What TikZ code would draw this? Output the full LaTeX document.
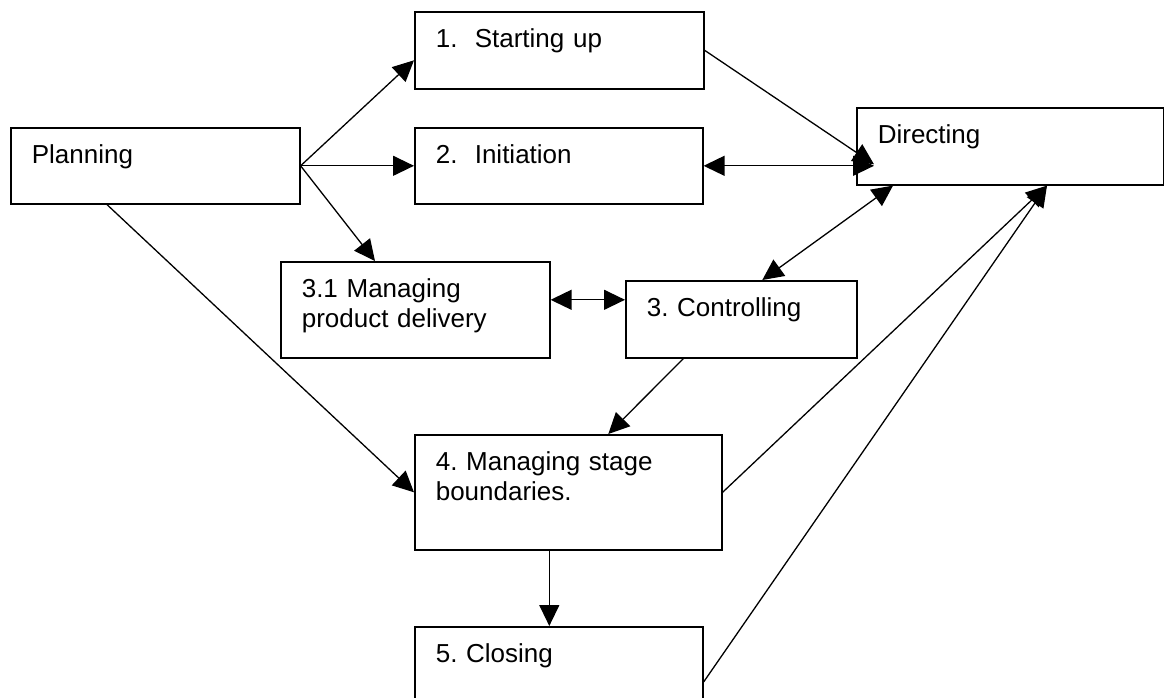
\documentclass[tikz,border=0pt]{standalone}
\usepackage{fontspec}
\setmainfont{Liberation Sans}
\usetikzlibrary{arrows.meta}
\tikzstyle{block} = [draw, line width=1.6pt, rectangle, anchor=north west,
    inner xsep=21pt, inner ysep=0pt, text height=36pt, align=left,
    font=\fontsize{26}{30}\selectfont]
\tikzstyle{line} = [draw, line width=1.3pt]

\begin{document}
\frenchspacing
\begin{tikzpicture}[x=1pt, y=1pt, >={Triangle[length=21pt,width=20pt]}]
  \useasboundingbox (0,0) rectangle (1164,-697);

  % process boxes, text sits top left
  \node [block, text width=247pt, text depth=40pt] (plan) at (10,-127) {Planning};
  \node [block, text width=247pt, text depth=41pt] (start) at (414,-11) {1.~~Starting up};
  \node [block, text width=246pt, text depth=40pt] (init) at (414,-127) {2.~~Initiation};
  \node [block, text width=265pt, text depth=41pt] (dir) at (856,-107) {Directing};
  \node [block, text width=227pt, text depth=60pt] (mpd) at (280,-261) {3.1 Managing\\product delivery};
  \node [block, text width=189pt, text depth=41pt] (ctrl) at (625,-280) {3. Controlling};
  \node [block, text width=265pt, text depth=79pt] (stage) at (414,-434) {4. Managing stage\\boundaries.};
  \node [block, text width=246pt, text depth=90pt] (close) at (414,-626) {5. Closing};

  % arrow ends on directing
  \coordinate (dirin) at ([xshift=18pt,yshift=-18pt]dir.west);
  \coordinate (dirbot) at ([xshift=191pt]dir.south west);

  \draw [line,->] (plan.east) -- ([yshift=-10pt]start.west);
  \draw [line,->] (plan.east) -- (init.west);
  \draw [line,->] (plan.east) -- ([xshift=95pt]mpd.north west);
  \draw [line,->] ([xshift=97pt]plan.south west) -- (stage.west);

  \draw [line,->] (start.east) -- (dirin);
  \draw [line,<->] (init.east) -- (init.east -| dirin);
  \draw [line,<->] ([xshift=21pt]ctrl.north) -- ([xshift=37pt]dir.south west);
  \draw [line,<->] ([yshift=10pt]mpd.east) -- ([yshift=10pt]mpd.east -| ctrl.west);

  \draw [line,->] ([xshift=-58pt]ctrl.south) -- ([xshift=40pt]stage.north);
  \draw [line,->] (stage.east) -- (dirbot);
  \draw [line,->] ([yshift=-56pt]close.north east) -- (dirbot);
  \draw [line,->] ([xshift=-19pt]stage.south) -- ([xshift=-19pt]stage.south |- close.north);
\end{tikzpicture}
\end{document}
